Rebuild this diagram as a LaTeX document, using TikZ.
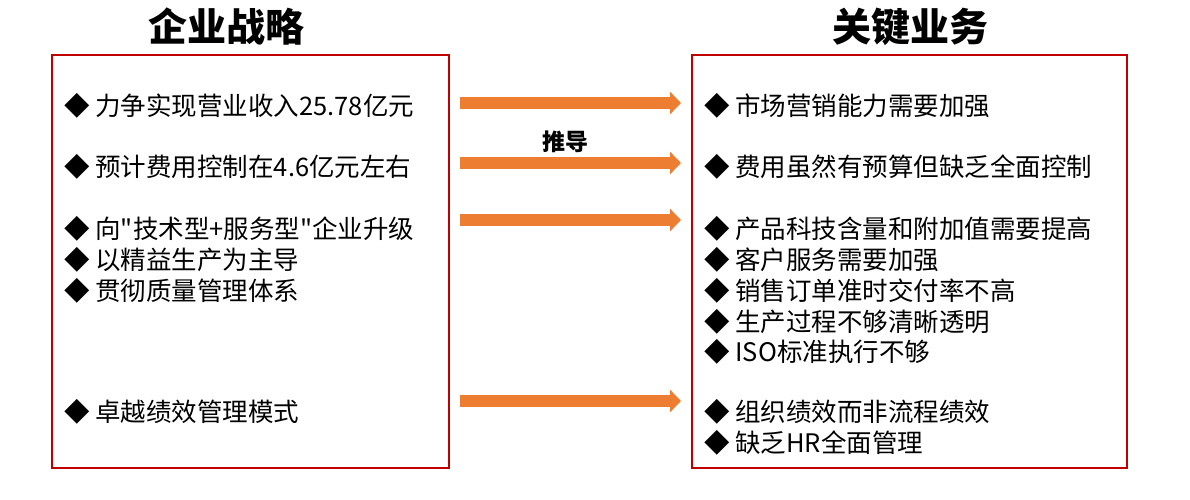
\documentclass[tikz,border=0pt]{standalone}
\usepackage{fontspec}
\setmainfont{Noto Sans CJK SC}[Ligatures=TeXOff]
\usetikzlibrary{arrows.meta}
\definecolor{boxred}{HTML}{C00000}
\definecolor{arroworange}{HTML}{ED7D31}
\tikzset{
  panel/.style={draw=boxred, line width=1.5pt},
  heading/.style={font=\bfseries\fontsize{39}{39}\selectfont},
  item/.style={anchor=west, inner sep=0pt, font=\fontsize{25.5}{25.5}\selectfont},
  push/.style={draw=arroworange, line width=12pt, -{Triangle[length=11pt, width=22pt]}}
}
\begin{document}
\begin{tikzpicture}[x=1pt, y=-1pt]
        \useasboundingbox (0,0) rectangle (1190,500);
        % titles
        \node[heading] (ltitle) at (226,27) {企业战略};
        \node[heading] (rtitle) at (910,27) {关键业务};
        % frames
        \draw[panel] (52,55) rectangle (449,468);
        \draw[panel] (692,55) rectangle (1127,468);
        % left list
        \foreach \y/\t [count=\i] in {106/力争实现营业收入25.78亿元, 167/预计费用控制在4.6亿元左右,
            229/向"技术型+服务型"企业升级, 260/以精益生产为主导, 291/贯彻质量管理体系, 412/卓越绩效管理模式}
            \node[item] (l\i) at (64,\y) {◆ \t};
        % right list
        \foreach \y/\t [count=\i] in {106/市场营销能力需要加强, 167/费用虽然有预算但缺乏全面控制,
            229/产品科技含量和附加值需要提高, 260/客户服务需要加强, 291/销售订单准时交付率不高,
            322/生产过程不够清晰透明, 352/ISO标准执行不够, 412/组织绩效而非流程绩效, 443/缺乏HR全面管理}
            \node[item] (r\i) at (704,\y) {◆ \t};
        % arrows
        \foreach \y [count=\i] in {103,163,220,401} {
            \coordinate (s\i) at (460,\y);
            \coordinate (e\i) at (681,\y);
            \draw[push] (s\i) -- (e\i);
        }
        \node[font=\bfseries\fontsize{23}{23}\selectfont] (lead) at (565,142) {推导};
    \end{tikzpicture}
\end{document}
